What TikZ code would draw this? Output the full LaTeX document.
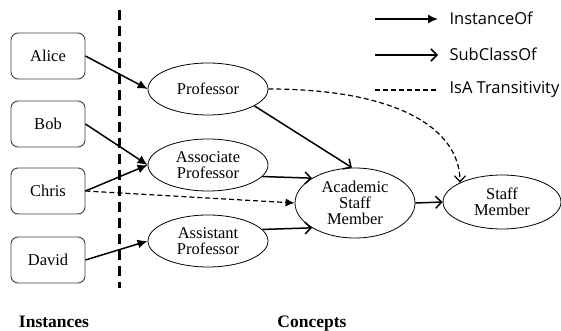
\documentclass[tikz,border=0pt]{standalone}
\usepackage{fontspec}
\setmainfont{Liberation Serif}
\newfontfamily\legendfont{Open Sans}
\usetikzlibrary{arrows.meta,shapes.geometric}
\begin{document}
\begin{tikzpicture}[x=1pt,y=-1pt,
  inst/.style={draw=black!75,line width=0.9pt,rounded corners=7pt,minimum width=74pt,minimum height=46pt,inner sep=0pt,font=\fontsize{16.5}{18}\selectfont},
  concept/.style={draw,line width=0.8pt,ellipse,minimum width=120pt,minimum height=52pt,inner sep=0pt,align=center,font=\fontsize{16.5}{18}\selectfont},
  instarrow/.style={line width=1.5pt,-{Latex[length=10pt,width=9pt]}},
  subarrow/.style={line width=1.5pt,-{Straight Barb[length=6pt,width=12pt,line width=1.5pt]}},
  isa/.style={line width=1.2pt,dash pattern=on 5pt off 3pt},
  legtext/.style={anchor=west,font=\legendfont\fontsize{16.5}{18}\selectfont},
  title/.style={font=\bfseries\fontsize{17.5}{19}\selectfont}]
\useasboundingbox (0,0) rectangle (561,331);
% divider
\coordinate (dtop) at (119,10);
\coordinate (dbot) at (119,288);
\draw[line width=3pt,dash pattern=on 10pt off 6pt] (dtop) -- (dbot);
% instances
\node[inst] (alice) at (48,56) {Alice};
\node[inst] (bob) at (48,124) {Bob};
\node[inst] (chris) at (48,191) {Chris};
\node[inst] (david) at (48,260) {David};
% concepts
\node[concept] (prof) at (208,89) {Professor};
\node[concept] (assoc) at (208,165) {Associate\\[-2pt]Professor};
\node[concept] (assist) at (208,241) {Assistant\\[-2pt]Professor};
\node[concept,minimum height=70pt] (acad) at (355,203) {Academic\\[-2pt]Staff\\[-2pt]Member};
\node[concept,minimum width=118pt,minimum height=54pt] (staff) at (502,202) {Staff\\[-2pt]Member};
% instance arrows
\draw[instarrow] (alice.east) -- (prof.west);
\draw[instarrow] (bob.east) -- (assoc.west);
\draw[instarrow] (chris.east) -- (assoc.west);
\draw[instarrow] (david.east) -- (assist.west);
% subclass arrows
\draw[subarrow] (prof.-20) -- (acad.95);
\draw[subarrow] (assoc.-12) -- (acad.150);
\draw[subarrow] (assist.12) -- (acad.-150);
\draw[subarrow] (acad.east) -- (staff.west);
% transitivity
\draw[isa,-{Latex[length=9pt,width=8pt]}] (chris.east) -- (acad.west);
\draw[isa,-{Straight Barb[length=6pt,width=11pt,line width=1.2pt]}] (prof.east) .. controls (400,89) and (460,130) .. (staff.north west -| 460,0);
% legend
\coordinate (l1a) at (375,19); \coordinate (l1b) at (438,19);
\coordinate (l2a) at (375,55); \coordinate (l2b) at (438,55);
\coordinate (l3a) at (375,90); \coordinate (l3b) at (438,90);
\draw[instarrow] (l1a) -- (l1b);
\draw[subarrow] (l2a) -- (l2b);
\draw[isa] (l3a) -- (l3b);
\node[legtext] (t1) at (446,18) {InstanceOf};
\node[legtext] (t2) at (446,54) {SubClassOf};
\node[legtext] (t3) at (446,89) {IsA Transitivity};
% titles
\node[title,anchor=base] (tinst) at (54,327) {Instances};
\node[title,anchor=base] (tconc) at (312,327) {Concepts};
\end{tikzpicture}
\end{document}
